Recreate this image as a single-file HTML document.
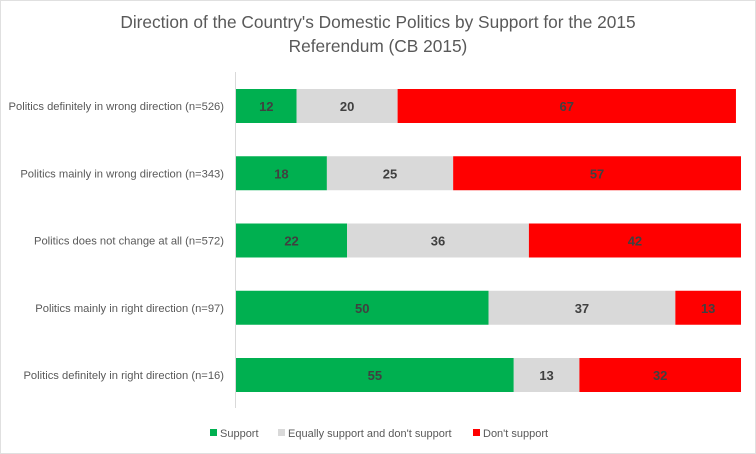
<!DOCTYPE html>
<html><head><meta charset="utf-8"><style>
html,body{margin:0;padding:0;background:#fff;}
svg{display:block;font-family:"Liberation Sans",sans-serif;}
</style></head><body>
<svg width="756" height="454">
<rect x="0.5" y="0.5" width="755" height="453" fill="#fff" stroke="#e0e0e0"/>
<text x="378" y="28" text-anchor="middle" font-size="17.3" fill="#595959">Direction of the Country's Domestic Politics by Support for the 2015</text>
<text x="378" y="52" text-anchor="middle" font-size="17.3" fill="#595959">Referendum (CB 2015)</text>
<line x1="235.5" y1="72" x2="235.5" y2="408" stroke="#d9d9d9"/>
<g id="bars"></g>
<g>
<rect x="210" y="429" width="7" height="7" fill="#00b050"/>
<text x="220" y="437" font-size="11" fill="#595959">Support</text>
<rect x="278" y="429" width="7" height="7" fill="#d9d9d9"/>
<text x="288" y="437" font-size="11" fill="#595959">Equally support and don't support</text>
<rect x="473" y="429" width="7" height="7" fill="#ff0000"/>
<text x="483" y="437" font-size="11" fill="#595959">Don't support</text>
</g>
</svg>
<script>
const categories = ["Politics definitely in wrong direction (n=526)","Politics mainly in wrong direction (n=343)","Politics does not change at all (n=572)","Politics mainly in right direction (n=97)","Politics definitely in right direction (n=16)"];
const support = [12,18,22,50,55];
const equally = [20,25,36,37,13];
const dontSupport = [67,57,42,13,32];
const seriesNames = ["support","equally","dont-support"];
const colors = ["#00b050","#d9d9d9","#ff0000"];
const x0 = 236, pxPerPct = 5.05, top0 = 89, rowStep = 67.25, barH = 34;
const xs = v => x0 + v * pxPerPct;
const ys = i => top0 + i * rowStep;
const g = document.getElementById('bars');
const NS = "http://www.w3.org/2000/svg";
categories.forEach((c, i) => {
  const lab = document.createElementNS(NS, 'text');
  lab.setAttribute('x', 224);
  lab.setAttribute('y', ys(i) + barH/2 + 4);
  lab.setAttribute('text-anchor', 'end');
  lab.setAttribute('font-size', '11.2');
  lab.setAttribute('fill', '#595959');
  lab.textContent = c;
  
  
  g.appendChild(lab);
  const vals = [support[i], equally[i], dontSupport[i]];
  let cum = 0;
  vals.forEach((v, s) => {
    const r = document.createElementNS(NS, 'rect');
    r.setAttribute('x', xs(cum));
    r.setAttribute('y', ys(i));
    r.setAttribute('width', v * pxPerPct);
    r.setAttribute('height', barH);
    r.setAttribute('fill', colors[s]);
    
    
    g.appendChild(r);
    const t = document.createElementNS(NS, 'text');
    t.setAttribute('x', xs(cum + v/2));
    t.setAttribute('y', ys(i) + barH/2 + 5);
    t.setAttribute('text-anchor', 'middle');
    t.setAttribute('font-size', '13');
    t.setAttribute('font-weight', 'bold');
    t.setAttribute('fill', '#404040');
    t.textContent = v;
    
    
    g.appendChild(t);
    cum += v;
  });
});
</script>
</body></html>
